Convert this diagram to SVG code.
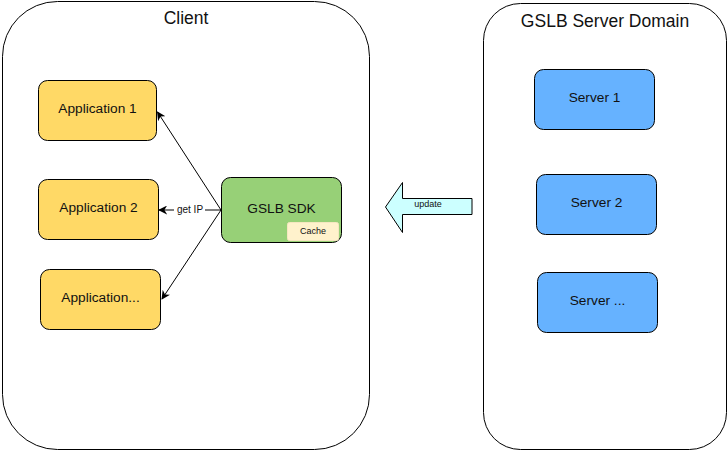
<svg xmlns="http://www.w3.org/2000/svg" width="728" height="454" viewBox="0 0 728 454">
<style>
text{font-family:"Liberation Sans",Arial,Helvetica,sans-serif;fill:#111;text-anchor:middle}
.cont{fill:#fff;stroke:#000;stroke-width:1}
.app{fill:#FFD966;stroke:#000;stroke-width:1}
.sdk{fill:#97D077;stroke:#000;stroke-width:1}
.srv{fill:#66B2FF;stroke:#000;stroke-width:1}
.title{font-size:17.5px}
.lbl{font-size:13.7px}
.small{font-size:9px}
.edge{fill:none;stroke:#000;stroke-width:1}
</style>
<defs>
<marker id="arr" viewBox="0 0 10 10" refX="9" refY="5" markerWidth="9" markerHeight="9" markerUnits="userSpaceOnUse" orient="auto">
<path d="M0,0 L10,5 L0,10 L3,5 Z" fill="#000"/>
</marker>
</defs>
<g id="client">
<rect class="cont" x="2.5" y="1.5" width="367" height="448" rx="55" ry="55"/>
<text class="title" x="186" y="24">Client</text>
</g>
<g id="server-domain">
<rect class="cont" x="483.5" y="3.5" width="243" height="446" rx="37" ry="37"/>
<text class="title" x="605" y="27">GSLB Server Domain</text>
</g>
<g id="app1">
<rect class="app" x="38.5" y="80.5" width="118" height="60" rx="9" ry="9"/>
<text class="lbl" x="97.5" y="113">Application 1</text>
</g>
<g id="app2">
<rect class="app" x="38.5" y="179.5" width="120" height="60" rx="9" ry="9"/>
<text class="lbl" x="98.5" y="212">Application 2</text>
</g>
<g id="app3">
<rect class="app" x="40.5" y="269.5" width="120" height="60" rx="9" ry="9"/>
<text class="lbl" x="100.5" y="302">Application...</text>
</g>
<g id="sdk">
<rect class="sdk" x="221.5" y="177.5" width="120" height="65" rx="9" ry="9"/>
<text class="lbl" x="281.5" y="213">GSLB SDK</text>
<rect x="287.5" y="222.5" width="51" height="18" rx="2" fill="#FFF2CC" stroke="#f5e7c0" stroke-width="1"/>
<text class="small" x="313" y="234">Cache</text>
</g>
<g id="server1">
<rect class="srv" x="534.5" y="69.5" width="120" height="60" rx="9" ry="9"/>
<text class="lbl" x="594.5" y="102">Server 1</text>
</g>
<g id="server2">
<rect class="srv" x="536.5" y="174.5" width="120" height="60" rx="9" ry="9"/>
<text class="lbl" x="596.5" y="207">Server 2</text>
</g>
<g id="server3">
<rect class="srv" x="537.5" y="272.5" width="120" height="60" rx="9" ry="9"/>
<text class="lbl" x="597.5" y="305">Server ...</text>
</g>
<g id="update">
<polygon points="472,198.5 402.5,198.5 402.5,182.5 385.5,207 402.5,232.5 402.5,214.5 472,214.5" fill="#CCFFFF" stroke="#000" stroke-width="1"/>
<text class="small" x="428" y="207">update</text>
</g>
<g id="connectors">
<line class="edge" x1="221" y1="210" x2="157.5" y2="112" marker-end="url(#arr)"/>
<line class="edge" x1="221" y1="210" x2="159" y2="210" marker-end="url(#arr)"/>
<line class="edge" x1="221" y1="210" x2="162" y2="299" marker-end="url(#arr)"/>
<rect x="174" y="203" width="31" height="13" fill="#fff"/>
<text x="190" y="213">get IP</text>
</g>
<style>#connectors text{font-size:10px}</style>
</svg>
